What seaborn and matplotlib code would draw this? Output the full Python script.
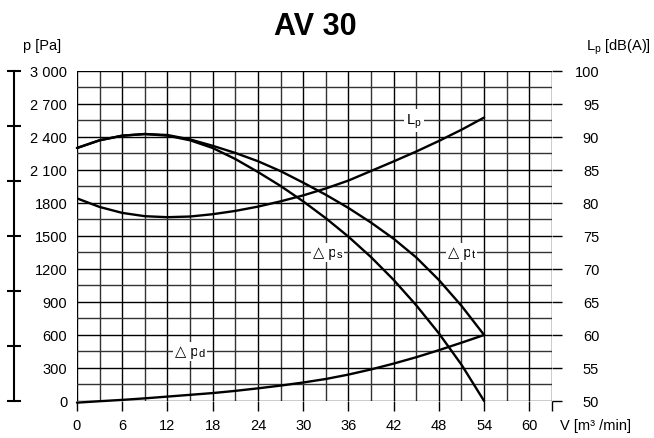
import numpy as np
import pandas as pd
import matplotlib
matplotlib.use('Agg')
import matplotlib.pyplot as plt
import seaborn as sns

# data
flow = [0, 3, 6, 9, 12, 15, 18, 21, 24, 27, 30, 33, 36, 39, 42, 45, 48, 51, 54]
dp_t = [2300, 2370, 2412, 2427, 2418, 2378, 2320, 2255, 2180, 2090, 1985,
        1875, 1755, 1622, 1475, 1305, 1100, 865, 600]
dp_s = [2300, 2370, 2412, 2427, 2412, 2370, 2300, 2200, 2082, 1955, 1815,
        1662, 1494, 1308, 1101, 870, 615, 330, 0]
dp_d = [-15, -2, 10, 24, 40, 56, 72, 92, 115, 140, 168,
        200, 240, 287, 340, 398, 462, 530, 600]
lp_db = [80.7, 79.4, 78.5, 78.0, 77.85, 77.95, 78.3, 78.8, 79.45, 80.25, 81.15,
         82.2, 83.4, 84.85, 86.3, 87.8, 89.4, 91.1, 92.95]

p_ticks = list(range(0, 3001, 300))
p_tick_labels = ['0', '300', '600', '900', '1200', '1500', '1800', '2 100',
                 '2 400', '2 700', '3 000']
db_ticks = list(range(50, 101, 5))
v_ticks = list(range(0, 61, 6))

sns.set_theme(style='white')
plt.rcParams['font.family'] = ['Liberation Sans', 'DejaVu Sans']
plt.rcParams['mathtext.fontset'] = 'custom'
plt.rcParams['mathtext.rm'] = 'Liberation Sans'
plt.rcParams['mathtext.it'] = 'Liberation Sans'
for key in ['text.color', 'axes.labelcolor', 'xtick.color', 'ytick.color']:
    plt.rcParams[key] = 'black'

df = pd.DataFrame({'V': flow, 'dp_t': dp_t, 'dp_s': dp_s, 'dp_d': dp_d, 'Lp': lp_db})

fig = plt.figure(figsize=(6.54, 4.39), dpi=100)
ax = fig.add_axes([0.1177, 0.0843, 0.7263, 0.7517])

for col in ['dp_t', 'dp_s', 'dp_d']:
    sns.lineplot(data=df, x='V', y=col, ax=ax, color='black', lw=1.7,
                 clip_on=False, zorder=5)

ax.set_xlim(0, 63)
ax.set_ylim(0, 3000)
ax.set_xticks(v_ticks + [63])
ax.set_xticklabels([str(v) for v in v_ticks] + [''])
ax.set_xticks(np.arange(3, 63, 6), minor=True)
ax.set_yticks(p_ticks)
ax.set_yticklabels(p_tick_labels)
ax.set_yticks(np.arange(150, 3000, 300), minor=True)
ax.tick_params(axis='x', which='major', direction='out', length=7.5, width=1.0,
               color='black', pad=5, labelsize=10.5, bottom=True)
ax.tick_params(axis='x', which='minor', length=0)
ax.tick_params(axis='y', which='both', length=0, pad=7, labelsize=10.5)
ax.grid(True, which='major', color='black', lw=1.0)
ax.grid(True, which='minor', color='#333333', lw=1.0)
for s in ax.spines.values():
    s.set_visible(False)
ax.set_xlabel('')
ax.set_ylabel('')

# sound pressure level on the right
ax2 = ax.twinx()
sns.lineplot(data=df, x='V', y='Lp', ax=ax2, color='black', lw=1.7, zorder=5)
ax2.set_ylim(50, 100)
ax2.set_yticks(db_ticks)
ax2.tick_params(axis='y', direction='out', length=7.5, width=1.0, color='black',
                pad=26.5, labelsize=10.5, right=True)
plt.setp(ax2.get_yticklabels(), ha='right')
for s in ax2.spines.values():
    s.set_visible(False)
ax2.set_ylabel('')
ax2.set_xlabel('')

# outer scale bar on the left
ax3 = ax.twinx()
ax3.set_ylim(0, 3000)
ax3.yaxis.tick_left()
ax3.set_yticks(range(0, 3001, 500))
ax3.set_yticklabels([])
for name, s in ax3.spines.items():
    s.set_visible(name == 'left')
ax3.spines['left'].set_position(('outward', 45.5))
ax3.spines['left'].set_linewidth(1.5)
ax3.spines['left'].set_color('black')
ax3.tick_params(axis='y', direction='inout', length=10, width=1.5, color='black')

box = dict(facecolor='white', edgecolor='none', pad=1.5)
ax.text(44.7, 2550, 'L$_\\mathrm{p}$', ha='center', va='center', fontsize=10.5,
        bbox=box, zorder=6)

# curve labels: triangle + p, then the subscript
for x0, y0, sub in [(31.3, 1350, 's'), (49.2, 1350, 't'), (13.0, 450, 'd')]:
    main = ax.text(x0, y0, '△ p', ha='left', va='center', fontsize=10.5,
                   bbox=box, zorder=6)
    ax.annotate(sub, xy=(1, 0), xycoords=main, xytext=(0.3, 0.5),
                textcoords='offset points', ha='left', va='bottom', fontsize=8,
                bbox=dict(facecolor='white', edgecolor='none', pad=1.2),
                zorder=6)

fig.text(315 / 654, 1 - 27 / 439, 'AV 30', ha='center', va='center',
         fontsize=22, fontweight='bold')
fig.text(23 / 654, 1 - 46 / 439, 'p [Pa]', ha='left', va='center', fontsize=10.5)
fig.text(651 / 654, 1 - 47 / 439, 'L$_\\mathrm{p}$ [dB(A)]', ha='right', va='center',
         fontsize=10.5)
fig.text(560 / 654, 1 - 426 / 439, 'V [m³ /min]', ha='left', va='center',
         fontsize=10.5)

fig.savefig('out.png', dpi=100)
